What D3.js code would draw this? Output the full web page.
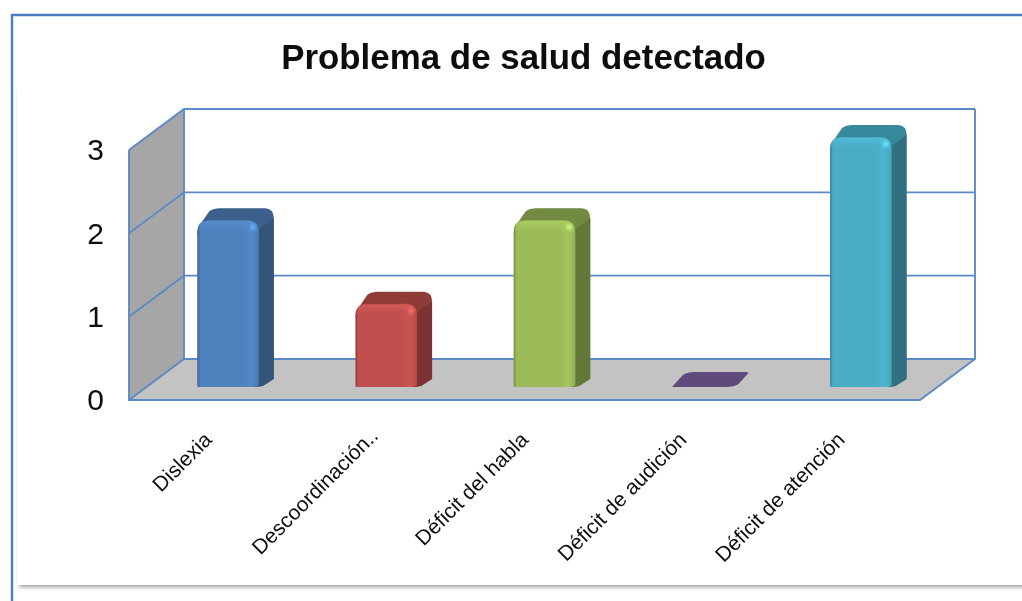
<!DOCTYPE html>
<html><head><meta charset="utf-8">
<script src="https://cdn.jsdelivr.net/npm/d3@7/dist/d3.min.js"></script>
<style>html,body{margin:0;padding:0;background:#fff}svg{display:block}</style></head>
<body><svg id="c" width="1022" height="601"></svg>
<script>
const titleText = "Problema de salud detectado";
const categories = ["Dislexia","Descoordinación..","Déficit del habla","Déficit de audición","Déficit de atención"];
const values = [2,1,2,0,3];
const frontColors = ["#4f81bd","#c0504d","#9bbb59","#8064a2","#4bacc6"];
const topColors = ["#3c5f8c","#8f3b39","#728a42","#604a7b","#38889c"];
const sideColors = ["#345478","#7b3230","#647739","#604a7b","#2f6f80"];
const yTicks = [0,1,2,3];
const gridColor = "#5c8ac6";

const depthX=55, depthY=-41, barDX=20, barDY=-13, barSideX=15, barSideY=-12;
const svg=d3.select("#c");
const defs=svg.append("defs");
const sh=defs.append("filter").attr("id","sh").attr("x","-5%").attr("y","-5%").attr("width","110%").attr("height","110%");
sh.append("feGaussianBlur").attr("stdDeviation",2.2);
const soft=defs.append("filter").attr("id","soft").attr("x","-5%").attr("y","-5%").attr("width","110%").attr("height","110%");
soft.append("feGaussianBlur").attr("stdDeviation",0.5);
const glow=defs.append("filter").attr("id","glow").attr("x","-100%").attr("y","-100%").attr("width","300%").attr("height","300%");
glow.append("feGaussianBlur").attr("stdDeviation",1.5);

frontColors.forEach((c,i)=>{
  const g=defs.append("linearGradient").attr("id","g"+i);
  const d=d3.color(c).darker(0.8), l=d3.color(c).brighter(0.15), e=d3.color(c).darker(0.25);
  [[0,d],[0.05,c],[0.74,c],[0.87,l],[0.95,c],[1,e]].forEach(s=>g.append("stop").attr("offset",s[0]).attr("stop-color",s[1]));
  const t=defs.append("linearGradient").attr("id","t"+i).attr("x1",0).attr("x2",0).attr("y1",0).attr("y2",1);
  t.append("stop").attr("offset",0).attr("stop-color",d3.color(c).brighter(0.3)).attr("stop-opacity",0.9);
  t.append("stop").attr("offset",1).attr("stop-color",c).attr("stop-opacity",0);
});

const x=d3.scaleBand().domain(categories).range([129,920]).paddingInner(0.61).paddingOuter(0.305);
const y=d3.scaleLinear().domain([0,3]).range([400,150]);

// outer frame and chart card
svg.append("path").attr("d",`M12,601V15H1022`).attr("fill","none").attr("stroke","#4a7ebb").attr("stroke-width",2.4);
svg.append("rect").attr("x",19).attr("y",88).attr("width",1010).attr("height",499).attr("fill","#9a9a9a").attr("filter","url(#sh)");
svg.append("rect").attr("x",17).attr("y",85).attr("width",1006).attr("height",500).attr("fill","#fff");
svg.append("rect").attr("x",14).attr("y",17).attr("width",1008).attr("height",70).attr("fill","#fff");

const g=svg.append("g").attr("filter","url(#soft)");

// walls and floor
const x0=x.range()[0], x1=x.range()[1], wallTop=y(3), bot=y(0);
g.append("path").attr("d",`M${x0},${bot}L${x0},${wallTop}L${x0+depthX},${wallTop+depthY}L${x0+depthX},${bot+depthY}Z`).attr("fill","#a6a6a6");
g.append("path").attr("d",`M${x0},${bot}L${x1},${bot}L${x1+depthX},${bot+depthY}L${x0+depthX},${bot+depthY}Z`).attr("fill","#c3c3c3");
const lines=g.append("g").attr("fill","none").attr("stroke",gridColor).attr("stroke-width",1.9);
yTicks.forEach(v=>{
  lines.append("path").attr("d",`M${x0},${y(v)}L${x0+depthX},${y(v)+depthY}L${x1+depthX},${y(v)+depthY}`);
});
lines.append("path").attr("d",`M${x0},${wallTop}L${x0},${bot}L${x1},${bot}L${x1+depthX},${bot+depthY}L${x1+depthX},${wallTop+depthY}M${x0+depthX},${wallTop+depthY}L${x0+depthX},${bot+depthY}`);

// bars
categories.forEach((c,i)=>{
  const v=values[i], L=x(c)+barDX, w=x.bandwidth(), R=L+w, B=y(0)+barDY, T=y(v)+barDY, sx=barSideX, sy=barSideY;
  const bar=g.append("g");
  if(v===0){
    bar.append("path").attr("d",`M${L+2},${B}Q${L-1},${B} ${L+2},${B-2}L${L+sx-4},${B+sy}Q${L+sx},${B+sy-3} ${L+sx+9},${B+sy-3}L${R+sx-2},${B+sy-3}Q${R+sx+1},${B+sy-2} ${R+sx-1},${B+sy-1}L${R+5},${B-3}Q${R+1},${B} ${R-8},${B}Z`).attr("fill",topColors[i]);
    return;
  }
  const r=12;
  // silhouette, top colour
  bar.append("path").attr("d",`M${L},${T+14}L${L+1},${T+7}L${L+sx-3},${T+sy+3}Q${L+sx+1},${T+sy} ${L+sx+8},${T+sy}L${R+sx-9},${T+sy}Q${R+sx},${T+sy} ${R+sx},${T+sy+11}L${R},${T+14}Z`).attr("fill",topColors[i]);
  // side face
  bar.append("path").attr("d",`M${R-2},${T+10}L${R+sx},${T-2}L${R+sx},${B+sy+4}L${R+4},${B-1}Q${R+1},${B} ${R-4},${B}Z`).attr("fill",sideColors[i]);
  // front face
  const front=`M${L+1},${B}Q${L},${B} ${L},${B-2}L${L},${T+r}Q${L},${T} ${L+r},${T}L${R-r},${T}Q${R},${T} ${R},${T+r}L${R},${B-2}Q${R-2},${B} ${R-8},${B}Z`;
  bar.append("path").attr("d",front).attr("fill",`url(#g${i})`);
  // top bevel highlight
  bar.append("path").attr("d",`M${L+1},${T+13}Q${L+1},${T+1} ${L+r},${T+1}L${R-r},${T+1}Q${R-1},${T+1} ${R-1},${T+13}Z`).attr("fill",`url(#t${i})`);
  bar.append("circle").attr("cx",R-6).attr("cy",T+7).attr("r",3).attr("fill",d3.color(frontColors[i]).brighter(0.8)).attr("filter","url(#glow)");
});

// y axis labels
const yAxis=d3.axisLeft(y).tickValues(yTicks).tickSize(0).tickPadding(25).tickFormat(d3.format("d"));
const ya=g.append("g").attr("transform",`translate(${x0},0)`).call(yAxis);
ya.select(".domain").remove();
ya.selectAll("text").attr("font-family","Liberation Sans").attr("font-size",30).attr("fill","#111").attr("y",-1).attr("dy","0.36em");

// x axis labels
const xAxis=d3.axisBottom(x).tickSize(0);
const xa=g.append("g").attr("transform",`translate(0,${bot})`).call(xAxis);
xa.select(".domain").remove();
xa.selectAll("text").attr("font-family","Liberation Sans").attr("font-size",21).attr("fill","#111")
  .attr("text-anchor","end").attr("dy",0).attr("y",0)
  .attr("transform",(d,i)=>i===1?"translate(13,37) rotate(-45)":"translate(5,41) rotate(-45)");

// title
g.append("text").text(titleText).attr("x",523.5).attr("y",69).attr("text-anchor","middle")
 .attr("font-family","Liberation Sans").attr("font-weight","bold").attr("font-size",34.9).attr("fill","#111");
</script></body></html>
